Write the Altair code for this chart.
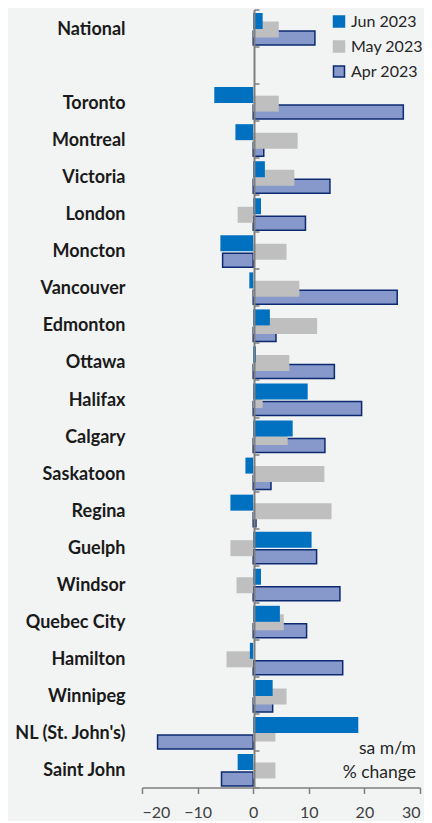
import altair as alt
import pandas as pd

cities = ["National", " ", "Toronto", "Montreal", "Victoria", "London", "Moncton",
          "Vancouver", "Edmonton", "Ottawa", "Halifax", "Calgary", "Saskatoon",
          "Regina", "Guelph", "Windsor", "Quebec City", "Hamilton", "Winnipeg",
          "NL (St. John's)", "Saint John"]
jun_2023 = [1.7, None, -7.0, -3.2, 2.1, 1.4, -5.9, -0.7, 3.0, 0.5, 9.8, 7.1, -1.4,
            -4.1, 10.5, 1.4, 4.8, -0.6, 3.5, 18.9, -2.8]
may_2023 = [4.6, None, 4.6, 8.0, 7.4, -2.8, 6.0, 8.3, 11.5, 6.5, 1.7, 6.2, 12.8,
            14.1, -4.1, -3.0, 5.5, -4.8, 6.0, 4.0, 4.0]
apr_2023 = [11.1, None, 27.0, 1.9, 13.8, 9.4, -5.5, 25.9, 4.1, 14.6, 19.5, 12.9, 3.2,
            0.5, 11.4, 15.6, 9.6, 16.1, 3.5, -17.2, -5.7]
series = ["Jun 2023", "May 2023", "Apr 2023"]
x_ticks = [-20, -10, 0, 10, 20, 30]

rows = []
for s, vals in zip(series, [jun_2023, may_2023, apr_2023]):
    for c, v in zip(cities, vals):
        if v is not None:
            rows.append({"city": c, "series": s, "value": v})
df = pd.DataFrame(rows)

FONT = "Lato"
fill_scale = alt.Scale(domain=series, range=["#0070c0", "#bfbfbf", "#8799cb"])
stroke_scale = alt.Scale(domain=series, range=["#0070c0", "#bfbfbf", "#0d2a70"])
y_scale = alt.Scale(domain=cities, paddingInner=0, paddingOuter=0)
x_scale = alt.Scale(domain=[-20, 30], nice=False)

x_enc = alt.X("value:Q", scale=x_scale,
              axis=alt.Axis(values=x_ticks, title=None, grid=False, domainColor="#7f7f7f",
                            tickColor="#7f7f7f", tickSize=6, domainWidth=1.5, tickWidth=1.5,
                            labelFontSize=16, labelColor="#404040", labelFont=FONT,
                            labelPadding=11))

legend = alt.Legend(title=None, orient="none", legendX=189, legendY=4, symbolType="square",
                    symbolSize=121, labelFontSize=16, labelFont=FONT, labelColor="#262626",
                    rowPadding=7, symbolStrokeWidth=1.5, labelOffset=4)

def layer(name, size, offset, axis):
    return alt.Chart(df).transform_filter(alt.datum.series == name).mark_bar(
        size=size, yOffset=offset, strokeWidth=1.5 if name == "Apr 2023" else 0
    ).encode(
        x=x_enc,
        y=alt.Y("city:N", scale=y_scale, sort=cities, axis=axis),
        fill=alt.Fill("series:N", scale=fill_scale, legend=legend),
        stroke=alt.Stroke("series:N", scale=stroke_scale, legend=legend),
    )

left_axis = alt.Axis(title=None, orient="left", domain=False, ticks=False,
                     labelFontSize=18, labelFontWeight="bold", labelFont=FONT,
                     labelColor="#1a1a1a", labelPadding=17, labelOffset=2)
right_axis = alt.Axis(title=None, orient="right", offset=-166, labels=False,
                      domainColor="#7f7f7f", domainWidth=2, tickColor="#7f7f7f",
                      tickSize=5, tickWidth=1.5, tickBand="extent", zindex=1)

apr = layer("Apr 2023", 14, 10, left_axis)
may = layer("May 2023", 16, 1.5, right_axis)
jun = layer("Jun 2023", 16, -7, None)

note = alt.Chart(pd.DataFrame({"t": ["sa m/m", "% change"], "yy": [739, 763]})).mark_text(
    align="right", baseline="middle", fontSize=17.5, font=FONT, color="#262626"
).encode(x=alt.value(274), y=alt.Y("yy:Q", scale=None), text="t:N")

chart = alt.layer(apr, may, jun, note).resolve_axis(y="independent").properties(
    width=278, height=778, autosize="none",
    padding={"left": 134, "top": 1.5, "right": 4, "bottom": 33},
    background="#f2f4f4",
).configure_view(stroke=None)

chart.save("out.html", embed_options={"renderer": "svg", "actions": False})
